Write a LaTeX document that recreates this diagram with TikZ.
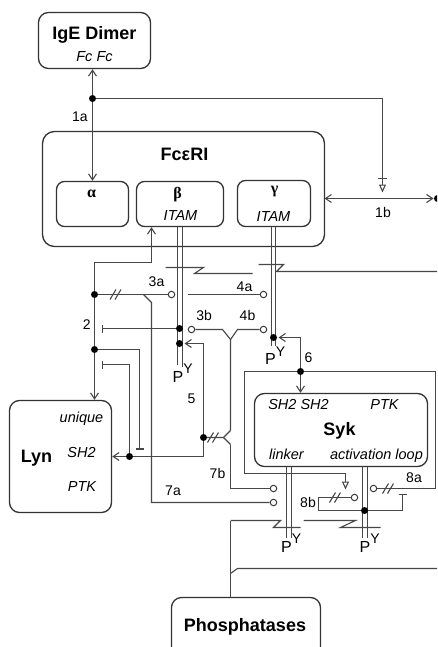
\documentclass[tikz,border=0pt]{standalone}
\usepackage{fontspec}
\setmainfont{Liberation Sans}
\newfontfamily\grk{Liberation Serif}
\usetikzlibrary{arrows.meta,calc}
\newcommand\PYtext{P\raisebox{8.5pt}{\fontsize{14}{14}\selectfont Y}}
\begin{document}
\begin{tikzpicture}[x=1pt,y=-1pt,
  >={Straight Barb[length=6pt,width=8pt]},
  ln/.style={draw=black!72, line width=1.1pt},
  bx/.style={draw=black!80, line width=1.3pt, inner sep=0pt},
  dotn/.style={circle, fill=black, inner sep=0pt, minimum size=7pt},
  oc/.style={circle, draw=black!75, line width=1.05pt, fill=white, inner sep=0pt, minimum size=6.5pt},
  num/.style={font=\fontsize{14}{14}\selectfont, inner sep=0pt, anchor=base},
  itl/.style={font=\fontsize{14.5}{15}\selectfont\itshape, inner sep=0pt, anchor=base},
  ttl/.style={font=\fontsize{18}{18}\selectfont\bfseries, inner sep=0pt, anchor=base},
  grl/.style={font=\fontsize{16}{16}\selectfont\grk\bfseries, inner sep=0pt, anchor=base},
  py/.style={font=\fontsize{16}{16}\selectfont, inner sep=0pt, anchor=base west},
  tbar/.style={-{Bar[width=8pt]}},
  tri/.style={-{Triangle[open,length=8pt,width=7pt]}},
  dsl/.pic={\draw[ln] (-6,5) -- (0,-5); \draw[ln] (-1,5) -- (5,-5);}
]
\useasboundingbox (-0.5,-0.5) rectangle (436.5,646.5);
\clip (-0.5,-0.5) rectangle (436.5,646.5);

% ---------- boxes ----------
\node[bx, rounded corners=10pt, minimum width=112pt, minimum height=56pt] (ige) at (94,40) {};
\node[bx, rounded corners=12pt, minimum width=282pt, minimum height=115pt] (fce) at (183,188.5) {};
\node[bx, rounded corners=8pt, minimum width=72pt, minimum height=45pt] (alpha) at (92,203.5) {};
\node[bx, rounded corners=8pt, minimum width=87pt, minimum height=45pt] (beta) at (179.5,203.5) {};
\node[bx, rounded corners=8pt, minimum width=73pt, minimum height=46pt] (gamma) at (273.5,203) {};
\node[bx, rounded corners=10pt, minimum width=102pt, minimum height=112pt] (lyn) at (60,456) {};
\node[bx, rounded corners=10pt, minimum width=173pt, minimum height=73pt] (syk) at (340.5,429.5) {};
\node[bx, rounded corners=10pt, minimum width=149pt, minimum height=70pt] (pho) at (245.5,632) {};

% ---------- box texts ----------
\node[ttl] (tIge) at (94,39.5) {IgE Dimer};
\node[itl] (tFc) at (94,61.5) {Fc Fc};
\node[ttl] (tFce) at (184,160.5) {FcεRI};
\node[grl] (tA) at (91,197) {α};
\node[grl] (tB) at (177,198) {β};
\node[itl] (tBi) at (180,220) {ITAM};
\node[grl] (tG) at (274,193) {γ};
\node[itl] (tGi) at (273,220.5) {ITAM};
\node[ttl] (tLyn) at (36,461.5) {Lyn};
\node[itl] (tLu) at (81,421.5) {unique};
\node[itl] (tLs) at (81,456.5) {SH2};
\node[itl] (tLp) at (81.5,490.5) {PTK};
\node[itl] (tSs) at (298,409) {SH2 SH2};
\node[itl] (tSp) at (384,409) {PTK};
\node[ttl] (tSyk) at (339,435) {Syk};
\node[itl] (tSl) at (286,459) {linker};
\node[itl] (tSa) at (376,459) {activation loop};
\node[ttl] (tPho) at (244.5,631) {Phosphatases};

% ---------- number labels ----------
\node[num] (n1a) at (79.5,121) {1a};
\node[num] (n1b) at (382.5,217) {1b};
\node[num] (n2) at (86.3,329.3) {2};
\node[num] (n3a) at (156,285.7) {3a};
\node[num] (n3b) at (203.7,320) {3b};
\node[num] (n4a) at (244,290.7) {4a};
\node[num] (n4b) at (247,320) {4b};
\node[num] (n5) at (191,403) {5};
\node[num] (n6) at (308,361.7) {6};
\node[num] (n7a) at (172.5,495) {7a};
\node[num] (n7b) at (217,478) {7b};
\node[num] (n8a) at (413.5,482) {8a};
\node[num] (n8b) at (307.5,507) {8b};

% ---------- phospho sites ----------
\node[py] (pyB) at (172,381.7) {\PYtext};
\node[py] (pyG) at (264.5,364) {\PYtext};
\node[py] (pyL) at (280.5,551.7) {\PYtext};
\node[py] (pyA) at (359,551.7) {\PYtext};

% ---------- coordinates ----------
\coordinate (d1a) at (92,98);
\coordinate (r1) at (382,98);
\coordinate (bar1b) at (382,178);
\coordinate (t1b) at (382,192);
\coordinate (b1L) at (324,198);
\coordinate (b1R) at (433,198);
\coordinate (e1b) at (437,198);
\coordinate (lb2) at (151,262);
\coordinate (lb3) at (94,262);
\coordinate (d2a) at (94,294);
\coordinate (d2b) at (94,349);
\coordinate (br7) at (143,294);
\coordinate (br7b) at (151,302);
\coordinate (k7a) at (151,502);
\coordinate (db1) at (179,328);
\coordinate (db2) at (179,343);
\coordinate (bar2a) at (101,328);
\coordinate (k2b) at (139,349);
\coordinate (bar2c) at (139,449);
\coordinate (dL) at (129,456);
\coordinate (k2c) at (129,364);
\coordinate (bar2b) at (101,364);
\coordinate (k5a) at (203,456);
\coordinate (k5b) at (203,343);
\coordinate (t5) at (184,343);
\coordinate (d5) at (203,437);
\coordinate (f0) at (223,437);
\coordinate (fU) at (230,430);
\coordinate (fD) at (230,444);
\coordinate (m0) at (230,339);
\coordinate (m3) at (222,329);
\coordinate (m4) at (237,329);
\coordinate (k7b) at (230,488);
\coordinate (s4a) at (187,294);
\coordinate (dg) at (273,337);
\coordinate (k6a) at (300,337);
\coordinate (t6) at (278,337);
\coordinate (d6) at (300,371);
\coordinate (k6L) at (244,371);
\coordinate (k6Lb) at (244,473);
\coordinate (k8t) at (345,473);
\coordinate (t8b) at (345,489);
\coordinate (k6R) at (435,371);
\coordinate (k8a) at (435,488);
\coordinate (k8b1) at (318,497);
\coordinate (k8b2) at (318,510);
\coordinate (dA) at (364,510);
\coordinate (k8c) at (402,510);
\coordinate (bar8) at (402,493);

% ---------- circles ----------
\node[oc] (c3a) at (171,294) {};
\node[oc] (c4a) at (263,294) {};
\node[oc] (c3b) at (191,329) {};
\node[oc] (c4b) at (263,329) {};
\node[oc] (c7b) at (273,488) {};
\node[oc] (c7a) at (273,502) {};
\node[oc] (c8a) at (373,488) {};
\node[oc] (c8b) at (354,497) {};

% ---------- double lines (chains) ----------
\draw[ln] (177,226) coordinate (bL1) -- (177,364) coordinate (bL2);
\draw[ln] (182,226) coordinate (bR1) -- (182,366) coordinate (bR2);
\draw[ln] (271,226) coordinate (gL1) -- (271,345) coordinate (gL2);
\draw[ln] (275,226) coordinate (gR1) -- (275,345) coordinate (gR2);
\draw[ln] (286,466) coordinate (lL1) -- (286,537) coordinate (lL2);
\draw[ln] (291,466) coordinate (lR1) -- (291,537) coordinate (lR2);
\draw[ln] (362,466) coordinate (aL1) -- (362,537) coordinate (aL2);
\draw[ln] (367,466) coordinate (aR1) -- (367,537) coordinate (aR2);

% ---------- 1a / 1b ----------
\draw[ln,->] (d1a) -- (d1a |- ige.south);
\draw[ln,->] (d1a) -- (d1a |- alpha.north);
\draw[ln] (d1a) -- (r1) -- (bar1b);
\draw[ln,tri] (bar1b) -- (t1b);
\draw[ln] ($(bar1b)+(-4.5,0)$) -- ($(bar1b)+(4.5,0)$);
\draw[ln,<->] (b1L) -- (b1R);

% ---------- Lyn - beta ----------
\draw[ln,<->] (lb3 |- lyn.north) -- (lb3) -- (lb2) -- (lb2 |- beta.south);

% 3a, 7a
\draw[ln] (d2a) -- (c3a);
\pic at (115.5,294) {dsl};
\draw[ln] (br7) -- (br7b) -- (k7a) -- (c7a);

% 2 inhibitions
\draw[ln,tbar] (db1) -- (bar2a);
\draw[ln,tbar] (d2b) -- (k2b) -- (bar2c);
\draw[ln,tbar] (dL) -- (k2c) -- (bar2b);

% 5
\draw[ln,->] (dL) -- (dL -| lyn.east);
\draw[ln,->] (dL) -- (k5a) -- (k5b) -- (t5);
\draw[ln] (d5) -- (f0) -- (fU);
\draw[ln] (f0) -- (fD);
\pic at (213,437) {dsl};

% 3b 4b merge and 7b
\draw[ln] (c3b) -- (m3) -- (m0) -- (fU);
\draw[ln] (c4b) -- (m4) -- (m0);
\draw[ln] (fD) -- (k7b) -- (c7b);

% 4a
\draw[ln] (s4a) -- (c4a);

% Z breaks (upper)
\draw[ln] (165,267) coordinate (zb1) -- (203,267) coordinate (zb2) -- (194,273) coordinate (zb3) -- (252,273) coordinate (zb4);
\draw[ln] (258,264) coordinate (zg1) -- (283,264) coordinate (zg2) -- (276,271) coordinate (zg3) -- (437,271) coordinate (zg4);

% 6
\draw[ln,->] (d6) -- (k6a) -- (t6);
\draw[ln,->] (d6) -- (d6 |- syk.north);
\draw[ln,tri] (d6) -- (k6L) -- (k6Lb) -- (k8t) -- (t8b);
\draw[ln] (d6) -- (k6R) -- (k8a) -- (c8a);
\pic at (388,488) {dsl};

% 8b
\draw[ln] (c8b) -- (k8b1) -- (k8b2) -- (dA) -- (k8c);
\draw[ln,tbar] (k8c) -- (bar8);
\pic at (335,497) {dsl};

% Z breaks (lower) and phosphatases
\draw[ln] (230,520) coordinate (zl1) -- (280,520) coordinate (zl2) -- (273,527) coordinate (zl3) -- (300,527) coordinate (zl4);
\draw[ln] (zl1) -- (zl1 |- pho.north);
\draw[ln] (303,520) coordinate (za1) -- (355,520) coordinate (za2) -- (340,527) coordinate (za3) -- (380,527) coordinate (za4);
\draw[ln] (230,573) coordinate (ph1) -- (237,568) coordinate (ph2) -- (437,568) coordinate (ph3);

% ---------- dots ----------
\node[dotn] (nd1a) at (d1a) {};
\node[dotn] (ne1b) at (e1b) {};
\node[dotn] (nd2a) at (d2a) {};
\node[dotn] (nd2b) at (d2b) {};
\node[dotn] (ndb1) at (db1) {};
\node[dotn] (ndb2) at (db2) {};
\node[dotn] (ndL) at (dL) {};
\node[dotn] (nd5) at (d5) {};
\node[dotn] (ndg) at (dg) {};
\node[dotn] (nd6) at (d6) {};
\node[dotn] (ndA) at (dA) {};
\end{tikzpicture}
\end{document}
